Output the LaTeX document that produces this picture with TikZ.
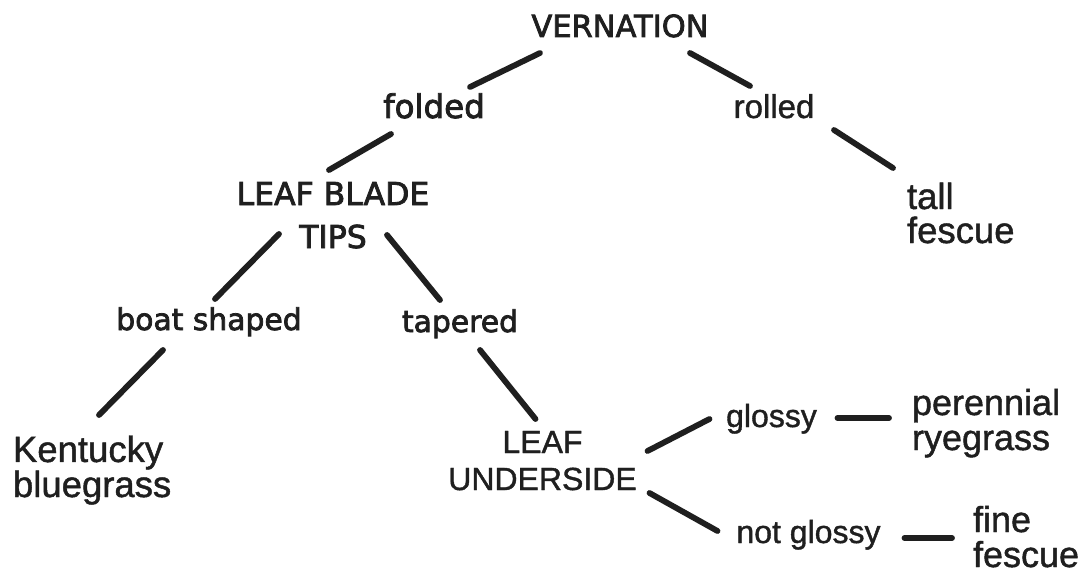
\documentclass[tikz,border=0pt]{standalone}
\usepackage{fontspec}
\setmainfont{Liberation Sans}
\newfontfamily\genfont[FakeBold=2.5]{DejaVu Sans}
\newfontfamily\helfont[FakeBold=1.2]{Liberation Sans}
\usetikzlibrary{calc}
\definecolor{ink}{gray}{0.12}
\begin{document}
\begin{tikzpicture}[x=1pt,y=-1pt,
  every node/.style={inner sep=0pt, outer sep=0pt, text=ink},
  gen/.style={font=\genfont\fontsize{30.5}{36}\selectfont},
  genb/.style={font=\genfont\fontsize{31.5}{43}\selectfont},
  gens/.style={font=\genfont\fontsize{29.8}{36}\selectfont},
  hel/.style={font=\helfont\fontsize{32}{37}\selectfont},
  helbig/.style={font=\helfont\fontsize{36.5}{34}\selectfont, align=left, anchor=base west},
  conn/.style={draw=ink, line width=5.8pt, line cap=round}]
\useasboundingbox[fill=white] (0,0) rectangle (1092,575);

% nodes (multi-line nodes are placed by the baseline of their last line)
\node[gen, anchor=base] (vern) at (620,37) {VERNATION};
\node[genb, font=\genfont\fontsize{32.5}{43}\selectfont, anchor=base] (folded) at (434,118) {folded};
\node[hel, font=\helfont\fontsize{33}{37}\selectfont, anchor=base] (rolled) at (774,118) {rolled};
\node[genb, align=center, anchor=base] (blade) at (333,248) {LEAF BLADE\\TIPS};
\node[helbig, font=\helfont\fontsize{36.5}{34}\selectfont] (tall) at (907,243) {tall\\fescue};
\node[gens, anchor=base] (boat) at (209,330) {boat shaped};
\node[gens, anchor=base] (taper) at (460,332) {tapered};
\node[helbig] (kent) at (13,497) {Kentucky\\bluegrass};
\node[hel, align=center, anchor=base] (under) at (542.5,490) {LEAF\\UNDERSIDE};
\node[hel, anchor=base] (glossy) at (771.5,427) {glossy};
\node[hel, anchor=base] (notg) at (808.5,543) {not glossy};
\node[helbig, font=\helfont\fontsize{36}{35}\selectfont] (peren) at (912,450) {perennial\\ryegrass};
\node[helbig, font=\helfont\fontsize{36}{35}\selectfont] (fine) at (973,567) {fine\\fescue};

% connectors
\draw[conn] ($(vern.base)+(-80,16)$) -- ($(folded.base)+(36,-31)$);
\draw[conn] ($(vern.base)+(70,16)$) -- ($(rolled.base)+(-24,-32)$);
\draw[conn] ($(folded.base)+(-43,16)$) -- ($(blade.base)+(-4,-78)$);
\draw[conn] ($(rolled.base)+(60,12)$) -- ($(tall.base west)+(-14,-75)$);
\draw[conn] ($(blade.base)+(-54,-14)$) -- ($(boat.base)+(6,-31)$);
\draw[conn] ($(blade.base)+(54,-13)$) -- ($(taper.base)+(-20,-32)$);
\draw[conn] ($(boat.base)+(-46,20)$) -- ($(kent.base west)+(86,-82)$);
\draw[conn] ($(taper.base)+(20,18)$) -- ($(under.base)+(-7,-71)$);
\draw[conn] ($(under.base)+(105,-39)$) -- ($(glossy.base)+(-62,-8)$);
\draw[conn] ($(under.base)+(107,3)$) -- ($(notg.base)+(-91,-12)$);
\draw[conn] ($(glossy.base)+(66,-9)$) -- ($(peren.base west)+(-23,-32)$);
\draw[conn] ($(notg.base)+(96,-5)$) -- ($(fine.base west)+(-21,-29)$);
\end{tikzpicture}
\end{document}
